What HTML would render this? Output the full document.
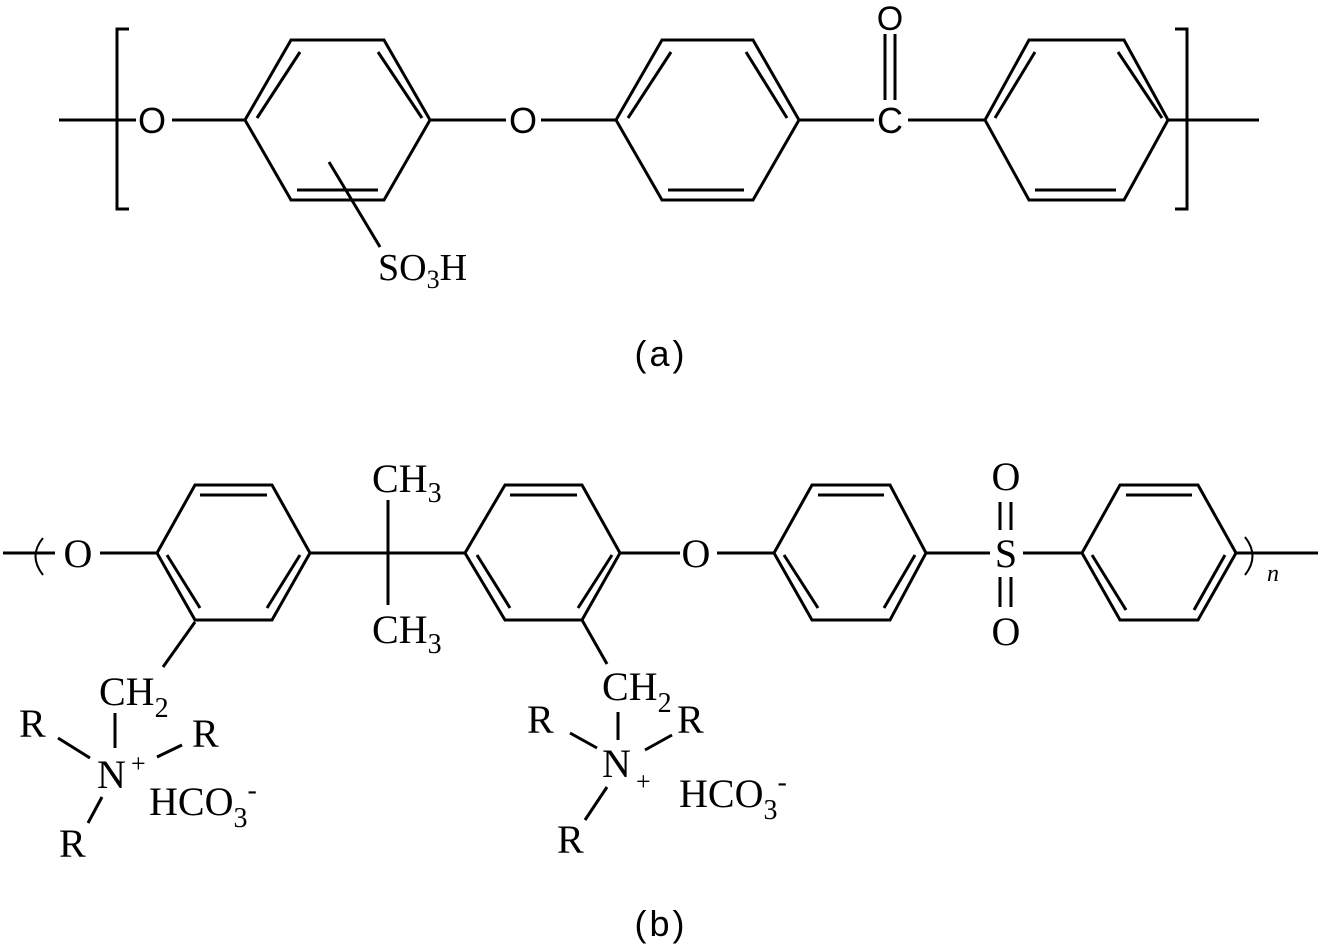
<!DOCTYPE html>
<html><head><meta charset="utf-8"><style>
html,body{margin:0;padding:0;background:#fff;}
svg{display:block;}
.s{font-family:"Liberation Sans",sans-serif;}
.r{font-family:"Liberation Serif",serif;}
</style></head><body>
<svg width="1323" height="947" viewBox="0 0 1323 947" xmlns="http://www.w3.org/2000/svg">
<g stroke="#000" stroke-width="3" fill="none" stroke-linecap="butt" stroke-linejoin="miter">
<!-- (a) -->
<line x1="59" y1="120" x2="136" y2="120"/>
<polyline points="129,29 117,29 117,209 129,209"/>
<line x1="172" y1="120" x2="245" y2="120"/>
<polygon points="245,120 291,40 384,40 430,120 384,200 291,200"/>
<line x1="300" y1="52" x2="257" y2="118"/>
<line x1="378" y1="52" x2="422" y2="118"/>
<line x1="297" y1="190" x2="378" y2="190"/>
<line x1="329" y1="162" x2="380" y2="247"/>
<line x1="430" y1="120" x2="506" y2="120"/>
<line x1="541" y1="120" x2="616" y2="120"/>
<polygon points="616,120 662,40 753,40 799,120 753,200 662,200"/>
<line x1="671" y1="52" x2="628" y2="118"/>
<line x1="746" y1="52" x2="787" y2="118"/>
<line x1="668" y1="190" x2="744" y2="190"/>
<line x1="799" y1="120" x2="874" y2="120"/>
<line x1="908" y1="120" x2="985" y2="120"/>
<line x1="885" y1="34" x2="885" y2="100"/>
<line x1="895" y1="34" x2="895" y2="100"/>
<polygon points="985,120 1029,40 1124,40 1168,120 1124,200 1029,200"/>
<line x1="1035" y1="52" x2="995" y2="118"/>
<line x1="1118" y1="52" x2="1162" y2="118"/>
<line x1="1035" y1="190" x2="1116" y2="190"/>
<polyline points="1175,29 1187,29 1187,209 1175,209"/>
<line x1="1168" y1="120" x2="1259" y2="120"/>
<!-- (b) -->
<line x1="3" y1="553" x2="55" y2="553"/>
<path d="M43,538 Q28,556 43,575" stroke-width="2"/>
<line x1="100" y1="553" x2="157" y2="553"/>
<polygon points="157,553 195,485 272,485 310,553 272,620 195,620"/>
<line x1="200" y1="495" x2="267" y2="495"/>
<line x1="167" y1="555" x2="200" y2="608"/>
<line x1="300" y1="555" x2="267" y2="608"/>
<line x1="195" y1="622" x2="163" y2="667"/>
<line x1="310" y1="553" x2="465" y2="553"/>
<line x1="388" y1="500" x2="388" y2="605"/>
<polygon points="465,553 505,485 582,485 620,553 582,620 505,620"/>
<line x1="510" y1="495" x2="577" y2="495"/>
<line x1="477" y1="555" x2="510" y2="608"/>
<line x1="612" y1="555" x2="578" y2="608"/>
<line x1="582" y1="620" x2="607" y2="664"/>
<line x1="620" y1="553" x2="680" y2="553"/>
<line x1="717" y1="553" x2="774" y2="553"/>
<polygon points="774,553 812,485 890,485 926,553 890,620 812,620"/>
<line x1="818" y1="495" x2="884" y2="495"/>
<line x1="784" y1="555" x2="818" y2="608"/>
<line x1="915" y1="555" x2="884" y2="608"/>
<line x1="926" y1="553" x2="990" y2="553"/>
<line x1="1023" y1="553" x2="1082" y2="553"/>
<line x1="1000" y1="502" x2="1000" y2="530"/>
<line x1="1011" y1="502" x2="1011" y2="530"/>
<line x1="1000" y1="577" x2="1000" y2="607"/>
<line x1="1011" y1="577" x2="1011" y2="607"/>
<polygon points="1082,553 1120,485 1198,485 1236,553 1198,620 1120,620"/>
<line x1="1126" y1="495" x2="1192" y2="495"/>
<line x1="1092" y1="555" x2="1126" y2="610"/>
<line x1="1225" y1="555" x2="1194" y2="610"/>
<path d="M1245,537 Q1260,556 1245,575" stroke-width="2"/>
<line x1="1234" y1="553" x2="1318" y2="553"/>
<!-- left ammonium -->
<line x1="115" y1="713" x2="115" y2="748"/>
<line x1="58" y1="738" x2="90" y2="758"/>
<line x1="157" y1="757" x2="182" y2="745"/>
<line x1="102" y1="797" x2="88" y2="823"/>
<!-- right ammonium -->
<line x1="618" y1="712" x2="618" y2="740"/>
<line x1="570" y1="733" x2="597" y2="748"/>
<line x1="645" y1="750" x2="672" y2="735"/>
<line x1="607" y1="787" x2="585" y2="820"/>
</g>
<g fill="#000">
<!-- (a) text -->
<text class="s" x="152" y="133" font-size="36" text-anchor="middle">O</text>
<text class="s" x="523" y="133" font-size="36" text-anchor="middle">O</text>
<text class="s" x="890" y="133" font-size="36" text-anchor="middle">C</text>
<text class="s" x="890" y="30" font-size="34" text-anchor="middle">O</text>
<text class="r" x="378" y="280" font-size="38">SO<tspan font-size="26" dy="8">3</tspan><tspan dy="-8">H</tspan></text>
<text class="s" x="661" y="366" font-size="36" text-anchor="middle" letter-spacing="3">(a)</text>
<!-- (b) text -->
<text class="r" x="78" y="567" font-size="40" text-anchor="middle">O</text>
<text class="r" x="372" y="492" font-size="40">CH<tspan font-size="28" dy="10">3</tspan></text>
<text class="r" x="372" y="643" font-size="40">CH<tspan font-size="28" dy="10">3</tspan></text>
<text class="r" x="696" y="567" font-size="40" text-anchor="middle">O</text>
<text class="r" x="1006" y="567" font-size="40" text-anchor="middle">S</text>
<text class="r" x="1006" y="490" font-size="40" text-anchor="middle">O</text>
<text class="r" x="1006" y="645" font-size="40" text-anchor="middle">O</text>
<text class="r" x="1267" y="581" font-size="24" font-style="italic">n</text>
<text class="r" x="99" y="705" font-size="40">CH<tspan font-size="28" dy="12">2</tspan></text>
<text class="r" x="19" y="737" font-size="40">R</text>
<text class="r" x="192" y="747" font-size="40">R</text>
<text class="r" x="97" y="788" font-size="40">N</text>
<text class="r" x="131" y="772" font-size="26">+</text>
<text class="r" x="59" y="857" font-size="40">R</text>
<text class="r" x="149" y="815" font-size="40">HCO<tspan font-size="28" dy="12">3</tspan><tspan font-size="28" dy="-28">-</tspan></text>
<text class="r" x="602" y="700" font-size="40">CH<tspan font-size="28" dy="12">2</tspan></text>
<text class="r" x="527" y="733" font-size="40">R</text>
<text class="r" x="677" y="733" font-size="40">R</text>
<text class="r" x="602" y="777" font-size="40">N</text>
<text class="r" x="636" y="790" font-size="26">+</text>
<text class="r" x="557" y="853" font-size="40">R</text>
<text class="r" x="679" y="807" font-size="40">HCO<tspan font-size="28" dy="12">3</tspan><tspan font-size="28" dy="-28">-</tspan></text>
<text class="s" x="661" y="936" font-size="36" text-anchor="middle" letter-spacing="3">(b)</text>
</g>
</svg>
</body></html>
